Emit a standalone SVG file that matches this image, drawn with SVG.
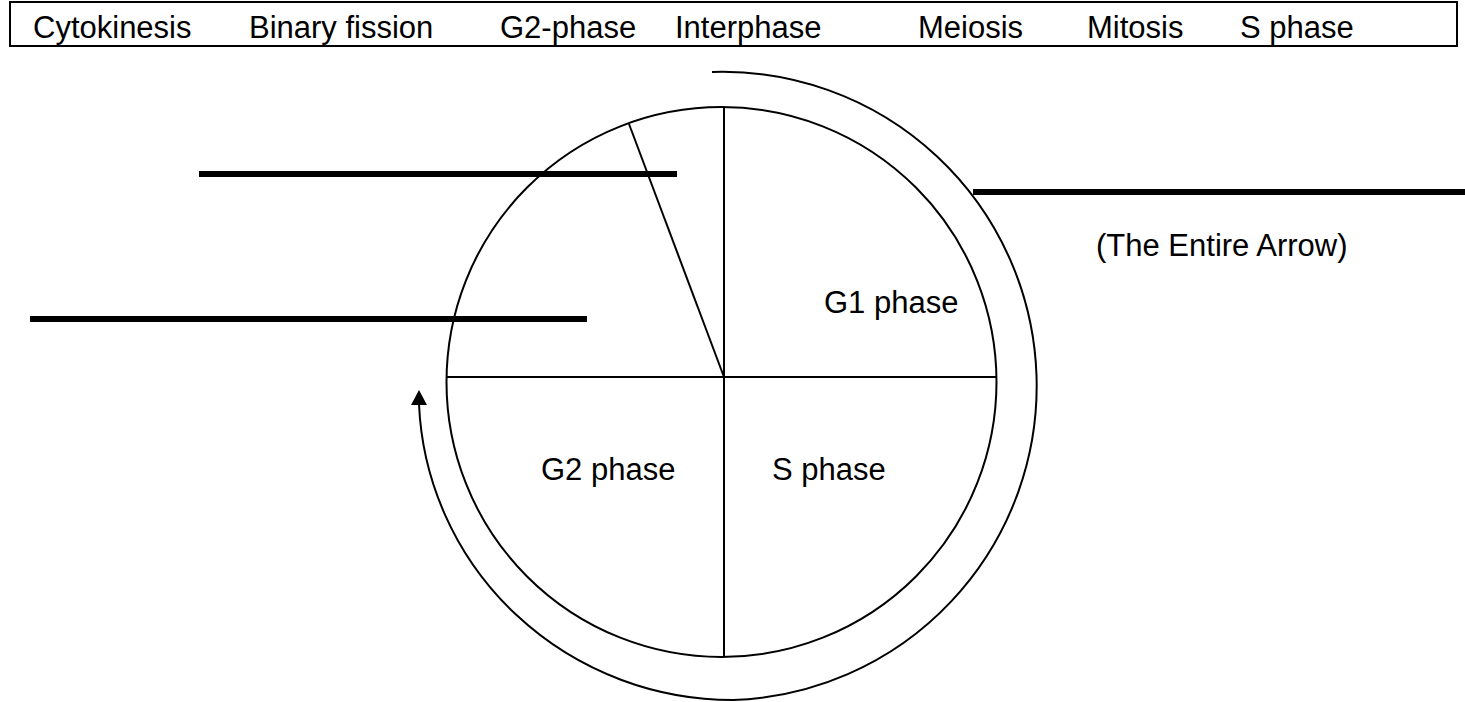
<svg xmlns="http://www.w3.org/2000/svg" width="1465" height="702" viewBox="0 0 1465 702">
<defs>
<style>
text{font-family:"Liberation Sans",Arial,sans-serif;font-size:31px;fill:#000}
.thin{fill:none;stroke:#000;stroke-width:2}
.thick{stroke:#000;stroke-width:6}
</style>
</defs>
<rect width="1465" height="702" fill="#fff"/>
<g id="word-bank">
<rect x="10" y="2" width="1447" height="44" fill="#fff" stroke="#000" stroke-width="2"/>
<text x="33" y="38">Cytokinesis</text>
<text x="249" y="38">Binary fission</text>
<text x="500" y="38">G2-phase</text>
<text x="675" y="38">Interphase</text>
<text x="918" y="38">Meiosis</text>
<text x="1087" y="38">Mitosis</text>
<text x="1240" y="38">S phase</text>
</g>
<g id="cycle">
<circle class="thin" cx="721.5" cy="382" r="275"/>
<line class="thin" x1="724" y1="107" x2="724" y2="657"/>
<line class="thin" x1="446" y1="377" x2="997" y2="377"/>
<line class="thin" x1="629" y1="124" x2="724" y2="377"/>
</g>
<g id="g1"><text x="824" y="313">G1 phase</text></g>
<g id="g2"><text x="541" y="480">G2 phase</text></g>
<g id="s"><text x="772" y="480">S phase</text></g>
<g id="label"><text x="1096" y="256">(The Entire Arrow)</text></g>
<g id="connectors">
<path class="thin" d="M712 72 A314 314 0 0 1 733 700"/>
<path class="thin" d="M735 700 A314 309 0 0 1 419 404"/>
<polygon points="419,390 411,405 427,405" fill="#000"/>
<line class="thick" x1="199" y1="174" x2="677" y2="174"/>
<line class="thick" x1="30" y1="319" x2="587" y2="319"/>
<line class="thick" x1="973" y1="192" x2="1465" y2="192"/>
</g>
</svg>
